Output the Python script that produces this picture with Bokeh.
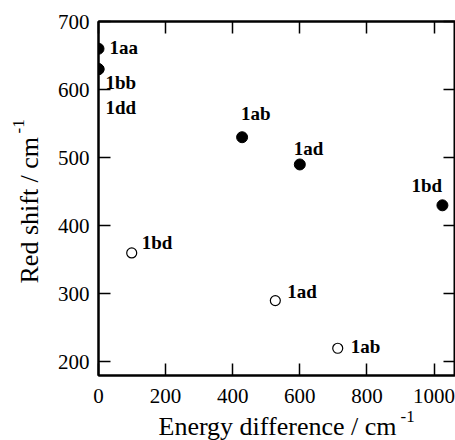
import math
from bokeh.plotting import figure
from bokeh.models import ColumnDataSource, LinearAxis, Title, FixedTicker, Range1d
from bokeh.core.properties import value
from bokeh.embed import file_html
from bokeh.resources import INLINE

# ---- data ----
filled_names = ["1aa", "1bb", "1dd", "1ab", "1ad", "1bd"]
filled_energy = [0, 0, 0, 428, 600, 1025]
filled_shift = [660, 630, 630, 530, 490, 430]

open_names = ["1bd", "1ad", "1ab"]
open_energy = [99, 527, 713]
open_shift = [360, 290, 220]

x_ticks = [0, 200, 400, 600, 800, 1000]
y_ticks = [200, 300, 400, 500, 600, 700]

# label pixel offsets (style, not data)
filled_dx = [11, 7, 7, -1, -6, -31]
filled_dy = [-1, 13, 38, -24, -16, -20]
open_dx = [10, 12, 13]
open_dy = [-10, -9, -2]

FONT = "Liberation Serif"

p = figure(width=455, height=440, output_backend="svg", toolbar_location=None,
           x_range=Range1d(0, 1064), y_range=Range1d(180, 700),
           min_border_left=98, min_border_top=21, min_border_bottom=65,
           min_border_right=0, background_fill_color="white",
           border_fill_color="white")
p.xgrid.visible = False
p.ygrid.visible = False
p.outline_line_color = "black"
p.outline_line_width = 2

xa = p.xaxis[0]
ya = p.yaxis[0]
xa.ticker = FixedTicker(ticks=x_ticks)
ya.ticker = FixedTicker(ticks=y_ticks)

top = LinearAxis(ticker=FixedTicker(ticks=x_ticks))
right = LinearAxis(ticker=FixedTicker(ticks=y_ticks))
p.add_layout(top, "above")
p.add_layout(right, "right")

for ax in (xa, ya, top, right):
    ax.axis_line_width = 2
    ax.axis_line_color = "black"
    ax.major_tick_in = 12
    ax.major_tick_out = 0
    ax.major_tick_line_width = 1.5
    ax.major_tick_line_color = "black"
    ax.minor_tick_line_color = None
    ax.major_label_text_font = FONT
    ax.major_label_text_color = "black"
    ax.major_label_text_font_size = "21px"

for ax in (top, right):
    ax.major_label_text_font_size = "0px"
    ax.major_label_text_alpha = 0
    ax.major_label_standoff = 0

xa.major_label_standoff = 13
ya.major_label_standoff = 9

# ---- markers ----
fsrc = ColumnDataSource(dict(x=filled_energy, y=filled_shift, name=filled_names,
                             dx=filled_dx, dy=filled_dy))
osrc = ColumnDataSource(dict(x=open_energy, y=open_shift, name=open_names,
                             dx=open_dx, dy=open_dy))

p.scatter("x", "y", source=fsrc, size=11, fill_color="black", line_color="black")
p.scatter("x", "y", source=osrc, size=10, fill_color="white", line_color="black",
          line_width=1.2)

for src in (fsrc, osrc):
    p.text("x", "y", text="name", source=src, x_offset="dx", y_offset="dy",
           text_font=value(FONT), text_font_style="bold", text_font_size="19px",
           text_align="left", text_baseline="alphabetic", text_color="black")

# ---- axis titles (as side titles) ----
def side_title(text, size, offset, place, standoff):
    t = Title(text=text, text_font=FONT, text_font_size=size,
              text_font_style="normal", text_color="black", align="left",
              offset=offset, standoff=standoff)
    p.add_layout(t, place)

side_title("-1", "17px", 302, "below", 6)
side_title("Energy difference / cm", "26px", 60, "below", -32)
side_title("Red shift / cm", "26px", 92, "left", 21)
side_title("-1", "17px", 242, "left", -42)

open("out.html", "w").write(file_html(p, INLINE))
